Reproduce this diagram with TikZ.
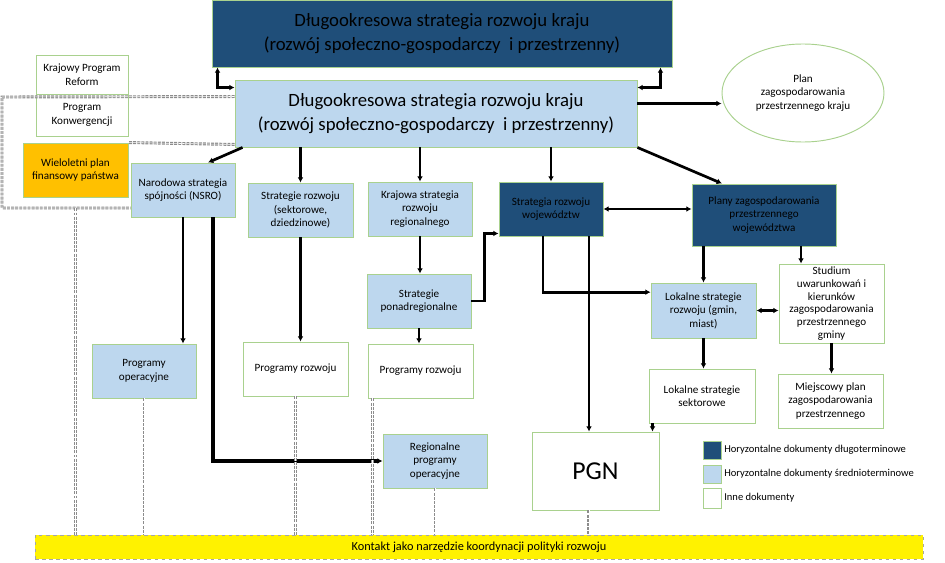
\documentclass[tikz,border=0pt]{standalone}
\usepackage{fontspec}
\setmainfont{Carlito}
\usetikzlibrary{arrows.meta,shapes.geometric,positioning}

\definecolor{longblue}{RGB}{31,78,121}
\definecolor{midblue}{RGB}{189,215,238}
\definecolor{greenline}{RGB}{169,209,142}
\definecolor{wpforange}{RGB}{255,192,0}

\begin{document}
\begin{tikzpicture}[
        x=0.03cm, y=-0.03cm,
        >={Latex[length=4.5pt,width=5pt]},
        every node/.style={draw=greenline, line width=0.8pt, align=center, inner sep=1.5pt, font=\fontsize{9.5}{11.5}\selectfont},
        boxsize/.style 2 args={minimum width=#1*0.03cm, minimum height=#2*0.03cm},
        longdoc/.style={fill=longblue},
        middoc/.style={fill=midblue},
        otherdoc/.style={fill=white},
        title/.style={font=\fontsize{16}{20}\selectfont},
        legtext/.style={draw=none, font=\fontsize{9}{10}\selectfont, inner sep=1pt},
        link/.style={line width=2.3pt},
        contact/.style={draw=gray!90, line width=1pt, double=white, double distance=0.5pt, dash pattern=on 2.5pt off 1pt}
    ]
    \useasboundingbox (0,0) rectangle (945,563);

    % Nodes
    \node (top) [longdoc, title, boxsize={460}{67}] at (442,33.5) {Długookresowa strategia rozwoju kraju \\
        (rozwój społeczno-gospodarczy~ i przestrzenny)};
    \node (main) [middoc, title, boxsize={402}{67}] at (436,113.5) {Długookresowa strategia rozwoju kraju \\
        (rozwój społeczno-gospodarczy~ i przestrzenny)};
    \node (plan) [ellipse, otherdoc, boxsize={162}{98}, font=\fontsize{9.5}{11.5}\selectfont] at (803,93) {Plan \\ zagospodarowania \\ przestrzennego kraju};

    \node (kpr) [otherdoc, boxsize={92}{39}] at (82,74.5) {Krajowy Program \\ Reform};
    \node (pk) [otherdoc, boxsize={92}{42}] at (82,115) {Program \\ Konwergencji};
    \node (wpf) [fill=wpforange, boxsize={105}{54}] at (75.5,170) {Wieloletni plan \\ finansowy państwa};

    \node (nsro) [middoc, boxsize={104}{54}] at (183,190) {Narodowa strategia \\ spójności (NSRO)};
    \node (sr) [middoc, boxsize={105}{54}] at (300.5,210) {Strategie rozwoju \\ (sektorowe, \\ dziedzinowe)};
    \node (ksrr) [middoc, boxsize={104}{54}] at (420,209) {Krajowa strategia \\ rozwoju \\ regionalnego};
    \node (srw) [longdoc, boxsize={104}{54}] at (551,209) {Strategia rozwoju \\ województw};
    \node (pzpw) [longdoc, boxsize={144}{62}] at (764,215) {Plany zagospodarowania \\ przestrzennego \\ województwa};

    \node (spr) [middoc, boxsize={104}{54}] at (419,301) {Strategie \\ ponadregionalne};
    \node (po) [middoc, boxsize={104}{54}] at (144,371) {Programy \\ operacyjne};
    \node (pr1) [otherdoc, boxsize={105}{54}] at (295.5,369) {Programy rozwoju};
    \node (pr2) [otherdoc, boxsize={105}{54}] at (420.5,371) {Programy rozwoju};
    \node (rpo) [middoc, boxsize={104}{54}] at (435,461) {Regionalne \\ programy \\ operacyjne};

    \node (lsr) [middoc, boxsize={105}{55}] at (703.5,310.5) {Lokalne strategie \\ rozwoju (gmin, \\ miast)};
    \node (stud) [otherdoc, boxsize={105}{79}, inner sep=0pt, font=\fontsize{9.5}{10.9}\selectfont] at (831.5,303.5) {Studium \\ uwarunkowań i \\ kierunków \\ zagospodarowania \\ przestrzennego \\ gminy};
    \node (lss) [otherdoc, boxsize={106}{54}] at (702,396) {Lokalne strategie \\ sektorowe};
    \node (mpz) [otherdoc, boxsize={105}{54}] at (830.5,401) {Miejscowy plan \\ zagospodarowania \\ przestrzennego};
    \node (pgn) [otherdoc, boxsize={127}{78}, font=\fontsize{22}{24}\selectfont] at (595.5,471) {PGN};

    \node (bar) [fill=yellow, draw=gray!70, dashed, thin, boxsize={888}{24}, font=\fontsize{10.5}{12}\selectfont] at (479,547) {Kontakt jako narzędzie koordynacji polityki rozwoju};

    % Legend
    \node (leg1) [longdoc, boxsize={18}{18}, inner sep=0pt] at (712,450) {};
    \node (leg2) [middoc, boxsize={18}{18}, inner sep=0pt] at (712,474) {};
    \node (leg3) [otherdoc, boxsize={18}{20}, inner sep=0pt] at (712,498) {};
    \node [legtext, right=1pt of leg1] {Horyzontalne dokumenty długoterminowe};
    \node [legtext, right=1pt of leg2] {Horyzontalne dokumenty średnioterminowe};
    \node [legtext, right=1pt of leg3] {Inne dokumenty};

    % Edges
    \draw[link, <->] ([xshift=0.18cm]top.south west) |- ([yshift=-0.24cm]main.north west);
    \draw[link, <->] ([yshift=-0.24cm]main.north east) -| ([xshift=-0.36cm]top.south east);
    \draw[link, ->] ([yshift=0.3cm]main.east) -- ([yshift=0.3cm]main.east -| plan.west);

    \draw[link, ->] ([xshift=0.24cm]main.south west) -- ([xshift=0.75cm]nsro.north);
    \draw[link, ->] (sr.north |- main.south) -- (sr.north);
    \draw[link, ->] (ksrr.north |- main.south) -- (ksrr.north);
    \draw[link, ->] (srw.north |- main.south) -- (srw.north);
    \draw[link, ->] (main.south east) -- ([xshift=-1.26cm]pzpw.north);
    \draw[link, <->] (srw.east) -- (srw.east -| pzpw.west);

    \draw[link, ->] (ksrr.south) -- (ksrr.south |- spr.north);
    \draw[link, ->] (spr.south) -- (spr.south |- pr2.north);
    \draw[link, ->] (spr.east) -| ([xshift=-0.42cm,yshift=0.09cm]srw.south west) -- ([yshift=0.09cm]srw.south west);
    \draw[link, ->] (sr.south) -- (sr.south |- pr1.north);
    \draw[link, ->] (nsro.south) -- (nsro.south |- po.north);
    \draw[line width=3pt, ->] ([xshift=0.9cm]nsro.south) |- (rpo.west);

    \draw[link, ->] ([xshift=-0.24cm]srw.south) |- ([yshift=0.55cm]lsr.west);
    \draw[link, ->] ([xshift=1.14cm]srw.south) -- ([xshift=1.14cm]srw.south |- pgn.north);
    \draw[link, ->] (lsr.north |- pzpw.south) -- (lsr.north);
    \draw[link, ->] ([xshift=1.11cm]pzpw.south) -- ([xshift=1.11cm]pzpw.south |- stud.north);
    \draw[link, <->] (lsr.east) -- (lsr.east -| stud.west);
    \draw[link, ->] (stud.south) -- (stud.south |- mpz.north);
    \draw[link, ->] (lsr.south) -- (lsr.south |- lss.north);
    \draw[link, ->] ([xshift=0.12cm]lss.south west) -- ([xshift=0.12cm]lss.south west |- pgn.north);

    % Contacts
    \draw[contact] ([yshift=-0.51cm]main.north west) -- (2,97) -- (2,208) -- (nsro.west |- 2,208);
    \draw[contact] ([yshift=0.09cm]main.south west) -- (wpf.north east);
    \draw[contact] ([yshift=-0.33cm]wpf.south) -- (wpf.south |- bar.north);
    \draw[contact] (po.south) -- (po.south |- bar.north);
    \draw[contact] (pr1.south) -- (pr1.south |- bar.north);
    \draw[contact] ([xshift=-1.44cm]pr2.south) -- ([xshift=-1.44cm]pr2.south |- bar.north);
    \draw[contact] (rpo.south) -- (rpo.south |- bar.north);
    \draw[contact] ([xshift=-0.2cm]pgn.south) -- ([xshift=-0.2cm]pgn.south |- bar.north);

\end{tikzpicture}
\end{document}
